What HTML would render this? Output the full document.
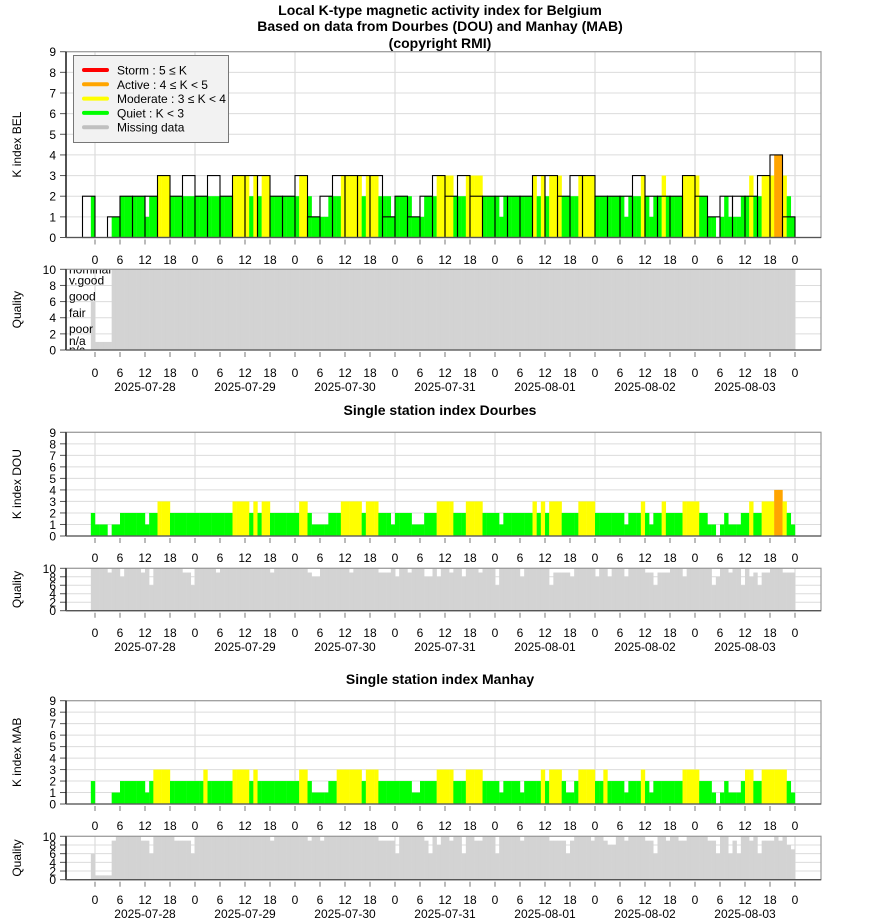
<!DOCTYPE html>
<html><head><meta charset="utf-8"><style>
body{margin:0;background:#fff}
svg{display:block;font-family:"Liberation Sans",sans-serif}
</style></head><body>
<svg id="chart" width="880" height="924" viewBox="0 0 880 924">
<text x="440" y="15" text-anchor="middle" font-size="14" font-weight="bold">Local K-type magnetic activity index for Belgium</text>
<text x="440" y="31" text-anchor="middle" font-size="14" font-weight="bold">Based on data from Dourbes (DOU) and Manhay (MAB)</text>
<text x="440" y="48" text-anchor="middle" font-size="14" font-weight="bold">(copyright RMI)</text>
<text x="440" y="415" text-anchor="middle" font-size="14" font-weight="bold">Single station index Dourbes</text>
<text x="440" y="684" text-anchor="middle" font-size="14" font-weight="bold">Single station index Manhay</text>
<defs>
<clipPath id="c1"><rect x="66" y="269.3" width="755" height="80.7"/></clipPath>
</defs>
</svg>
<script>
// 3-hour BEL K boxes (first box = 21-24h of 2025-07-27)
const kBelBoxes=[2,0,1,2,2,2,3,2,3,2,3,2,3,3,3,2,2,3,1,2,3,3,
3,3,1,2,1,2,3,2,3,2,2,2,2,2,3,3,2,3,3,2,2,2,3,2,
2,2,3,2,1,2,2,2,3,4,1];
// hourly values, first element = 23h of 2025-07-27
const kBelFill=[2,
0,0,0,0,1,1,2,2,2,2,2,2,1,2,2,3,3,3,2,2,2,2,2,2,
2,2,2,2,2,2,2,2,2,3,3,3,3,2,3,2,3,3,2,2,2,2,2,2,
2,3,3,2,1,1,1,1,2,2,2,3,3,3,3,3,2,3,3,3,2,2,2,1,
2,2,2,2,1,1,1,2,2,2,3,3,3,3,2,2,2,3,3,3,3,2,2,2,
2,1,2,2,2,2,2,2,2,3,2,3,2,3,3,3,2,2,2,2,3,3,3,3,
2,2,2,2,2,2,2,1,2,2,2,3,2,1,2,2,3,2,2,2,2,3,3,3,
3,2,2,1,1,0,1,2,1,1,1,2,2,3,2,2,3,3,3,4,4,3,2,1];
const qBel=[6,
1,1,1,1,10,10,10,10,10,10,10,10,10,10,10,10,10,10,10,10,10,10,10,10,
10,10,10,10,10,10,10,10,10,10,10,10,10,10,10,10,10,10,10,10,10,10,10,10,
10,10,10,10,10,10,10,10,10,10,10,10,10,10,10,10,10,10,10,10,10,10,10,10,
10,10,10,10,10,10,10,10,10,10,10,10,10,10,10,10,10,10,10,10,10,10,10,10,
10,10,10,10,10,10,10,10,10,10,10,10,10,10,10,10,10,10,10,10,10,10,10,10,
10,10,10,10,10,10,10,10,10,10,10,10,10,10,10,10,10,10,10,10,10,10,10,10,
10,10,10,10,10,10,10,10,10,10,10,10,10,10,10,10,10,10,10,10,10,10,10,10];
const kDou=[2,
1,1,1,0,1,1,2,2,2,2,2,2,1,2,2,3,3,3,2,2,2,2,2,2,
2,2,2,2,2,2,2,2,2,3,3,3,3,2,3,2,3,3,2,2,2,2,2,2,
2,3,3,2,1,1,1,1,2,2,2,3,3,3,3,3,2,3,3,3,2,2,2,1,
2,2,2,2,1,1,1,2,2,2,3,3,3,3,2,2,2,3,3,3,3,2,2,2,
2,1,2,2,2,2,2,2,2,3,2,3,2,3,3,3,2,2,2,2,3,3,3,3,
2,2,2,2,2,2,2,1,2,2,2,3,2,1,2,2,3,2,2,2,2,3,3,3,
3,2,2,1,1,0,1,2,1,1,1,2,2,3,2,2,3,3,3,4,4,3,2,1];
const qDou=[10,
10,10,10,9,10,10,8,10,10,10,10,9,10,6,10,10,10,10,10,10,10,9,9,6,
10,10,10,10,10,9,10,10,10,10,10,10,10,10,10,10,10,10,9,10,10,10,10,10,
10,10,10,9,8,8,10,10,10,10,10,10,10,9,10,10,10,10,10,10,9,9,9,10,
8,10,10,9,10,10,10,8,8,10,8,10,10,9,10,10,8,10,10,10,9,10,10,10,
6,10,10,10,10,10,8,10,10,10,10,10,10,6,9,9,9,9,8,10,10,10,10,10,
8,10,10,8,10,10,10,8,10,10,10,10,9,9,6,9,9,9,10,10,10,8,10,10,
10,10,10,10,6,8,10,10,9,10,10,6,10,8,9,6,9,9,10,10,10,9,9,9];
const kMab=[2,
0,0,0,0,1,1,2,2,2,2,2,2,1,2,3,3,3,3,2,2,2,2,2,2,
2,2,3,2,2,2,2,2,2,3,3,3,3,2,3,2,2,2,2,2,2,2,2,2,
2,3,3,2,1,1,1,1,2,2,3,3,3,3,3,3,2,3,3,3,2,2,2,2,
2,2,2,2,1,1,2,2,2,2,3,3,3,3,2,2,2,3,3,3,3,2,2,2,
2,1,2,2,2,2,1,2,2,2,2,3,2,3,3,3,2,1,1,2,3,3,3,3,
2,2,3,2,2,2,2,1,2,2,2,3,2,1,2,2,2,2,2,2,2,3,3,3,
3,2,2,2,1,0,1,2,1,1,1,2,3,3,2,2,3,3,3,3,3,3,2,1];
const qMab=[6,
1,1,1,1,9,10,10,10,10,10,10,9,9,6,10,10,10,10,10,9,9,9,9,6,
10,10,10,10,10,10,10,10,10,10,10,10,10,10,10,10,10,10,9,10,10,10,10,10,
10,10,10,9,10,10,9,10,10,10,10,10,10,10,10,10,10,10,10,10,9,9,9,9,
6,10,10,10,10,10,10,9,6,10,8,10,10,9,10,10,6,10,10,9,9,10,10,10,
6,10,10,10,10,10,9,10,10,10,10,10,10,9,9,9,9,6,9,10,10,10,10,9,
10,10,9,8,8,10,10,9,10,10,10,10,9,9,6,10,10,9,10,10,9,9,10,10,
10,10,10,9,9,6,10,10,6,9,6,10,10,9,10,6,9,9,9,10,9,10,8,7];
const hourTicks=['0','6','12','18','0','6','12','18','0','6','12','18','0','6','12','18','0','6','12','18','0','6','12','18','0','6','12','18','0'];
const dayLabels=['2025-07-28','2025-07-29','2025-07-30','2025-07-31','2025-08-01','2025-08-02','2025-08-03'];
const kTicks=[0,1,2,3,4,5,6,7,8,9];
const qTicks=[0,2,4,6,8,10];
const qualityNames=['nominal','v.good','good','fair','poor','n/a','n/c'];
const qualityLevels=[10,8.6,6.6,4.6,2.6,1.1,0];

const svg=document.getElementById('chart');
const NS='http://www.w3.org/2000/svg';
function mk(tag,attrs,parent){const e=document.createElementNS(NS,tag);for(const k in attrs)e.setAttribute(k,attrs[k]);(parent||svg).appendChild(e);return e;}
const X0=66,X1=821;
const xH=h=>95+h*100/24;
function colorK(k){return k>=5?'#ff0000':k>=4?'#ffa500':k>=3?'#ffff00':'#00ff00';}

function axisX(yAxis,yLab,yDate){
  hourTicks.forEach((t,i)=>{
    const x=xH(i*6);
    const l=mk('line',{x1:x,x2:x,y1:yAxis+2,y2:yAxis+7,stroke:'#777','stroke-width':1});
    
    
    const tx=mk('text',{x:x,y:yLab,'text-anchor':'middle','font-size':12});
    tx.textContent=t;
    
    
  });
  if(yDate){dayLabels.forEach((d,i)=>{
    const tx=mk('text',{x:xH(i*24+12),y:yDate,'text-anchor':'middle','font-size':12});
    tx.textContent=d;
    
    
  });}
}
function frame(yTop,yBot,ticks,yOf,title,titleY){
  for(let d=0;d<=7;d++){const x=xH(d*24);
    const g=mk('line',{x1:x,x2:x,y1:yTop,y2:yBot,stroke:'#d6d6d6','stroke-width':1});
    
    }
  ticks.forEach(t=>{const y=yOf(t);
    const g=mk('line',{x1:X0,x2:X1,y1:y,y2:y,stroke:'#dcdcdc','stroke-width':1});
    
    
    const tk=mk('line',{x1:X0-6,x2:X0,y1:y,y2:y,stroke:'#555','stroke-width':1});
    
    
    const tx=mk('text',{x:X0-10,y:y+4.5,'text-anchor':'end','font-size':12});
    tx.textContent=String(t);
    
    
  });
  const yt=mk('text',{x:0,y:0,'text-anchor':'middle','font-size':12,transform:`translate(21,${(yTop+yBot)/2}) rotate(-90)`});
  yt.textContent=title;
  
  
}
function border(yTop,yBot){
  const r=mk('rect',{x:X0,y:yTop,width:X1-X0,height:yBot-yTop,fill:'none',stroke:'#999','stroke-width':1.2});
  
  
  const l=mk('line',{x1:X0,x2:X0,y1:yTop,y2:yBot,stroke:'#000','stroke-width':1.3});
  
  
  const b=mk('line',{x1:X0,x2:X1,y1:yBot,y2:yBot,stroke:'#555','stroke-width':1.3});
  
  
}
function hourBars(vals,yOf,colorFn,name){
  vals.forEach((v,i)=>{
    if(v<=0)return;
    const h=i-1,x=xH(h),y=yOf(v);
    const r=mk('rect',{x:x,y:y,width:100/24+0.2,height:yOf(0)-y,fill:colorFn(v)});
    
    
  });
}
function kPanel(y0,y9,vals,title,name){
  const yOf=k=>y0-k*(y0-y9)/9;
  frame(y9,y0,kTicks,yOf,title);
  hourBars(vals,yOf,colorK,name);
  return yOf;
}
function qPanel(y0,y10,vals,name){
  const yOf=q=>y0-q*(y0-y10)/10;
  frame(y10,y0,qTicks,yOf,'Quality');
  hourBars(vals,yOf,()=>'#d3d3d3',name);
  return yOf;
}

// Panel 1: BEL
const yB=kPanel(237.5,51.7,kBelFill,'K index BEL','bel-hour-bar');
kBelBoxes.forEach((k,i)=>{
  const x=xH(3*i-3),y=yB(k);
  const r=mk('rect',{x:x,y:y,width:12.5,height:yB(0)-y,fill:'none',stroke:'#000','stroke-width':1.1});
  
  
});
border(51.7,237.5);
axisX(237.5,264,null);
const yQ1=qPanel(350,269.3,qBel,'bel-quality-bar');
const ql=mk('g',{'clip-path':'url(#c1)'});
qualityNames.forEach((n,i)=>{
  const t=mk('text',{x:69,y:yQ1(qualityLevels[i])+4,'font-size':12},ql);
  t.textContent=n;
  
  
});
border(269.3,350);
axisX(350,377,391);

// Panel 2: DOU
kPanel(536,432.3,kDou,'K index DOU','dou-hour-bar');
border(432.3,536);
axisX(536,562,null);
qPanel(610.7,568.3,qDou,'dou-quality-bar');
border(568.3,610.7);
axisX(610.7,637,651);

// Panel 3: MAB
kPanel(804,700.7,kMab,'K index MAB','mab-hour-bar');
border(700.7,804);
axisX(804,830,null);
qPanel(879.7,836.3,qMab,'mab-quality-bar');
border(836.3,879.7);
axisX(879.7,904,918);

// Legend
const lg=mk('g',{});


mk('rect',{x:73.5,y:55.5,width:155,height:87,fill:'#f2f2f2',stroke:'#777','stroke-width':1},lg);
const legNames=['Storm : 5 \u2264 K','Active : 4 \u2264 K < 5','Moderate : 3 \u2264 K < 4','Quiet : K < 3','Missing data'];
const legColors=['#ff0000','#ffa500','#ffff00','#00ff00','#c0c0c0'];
legNames.forEach((n,i)=>{
  const y=70+i*14.3;
  const l=mk('line',{x1:84,x2:107,y1:y,y2:y,stroke:legColors[i],'stroke-width':4,'stroke-linecap':'round'},lg);
  
  
  const t=mk('text',{x:117,y:y+4.5,'font-size':12},lg);
  t.textContent=n;
  
  
});
</script>
</body></html>
